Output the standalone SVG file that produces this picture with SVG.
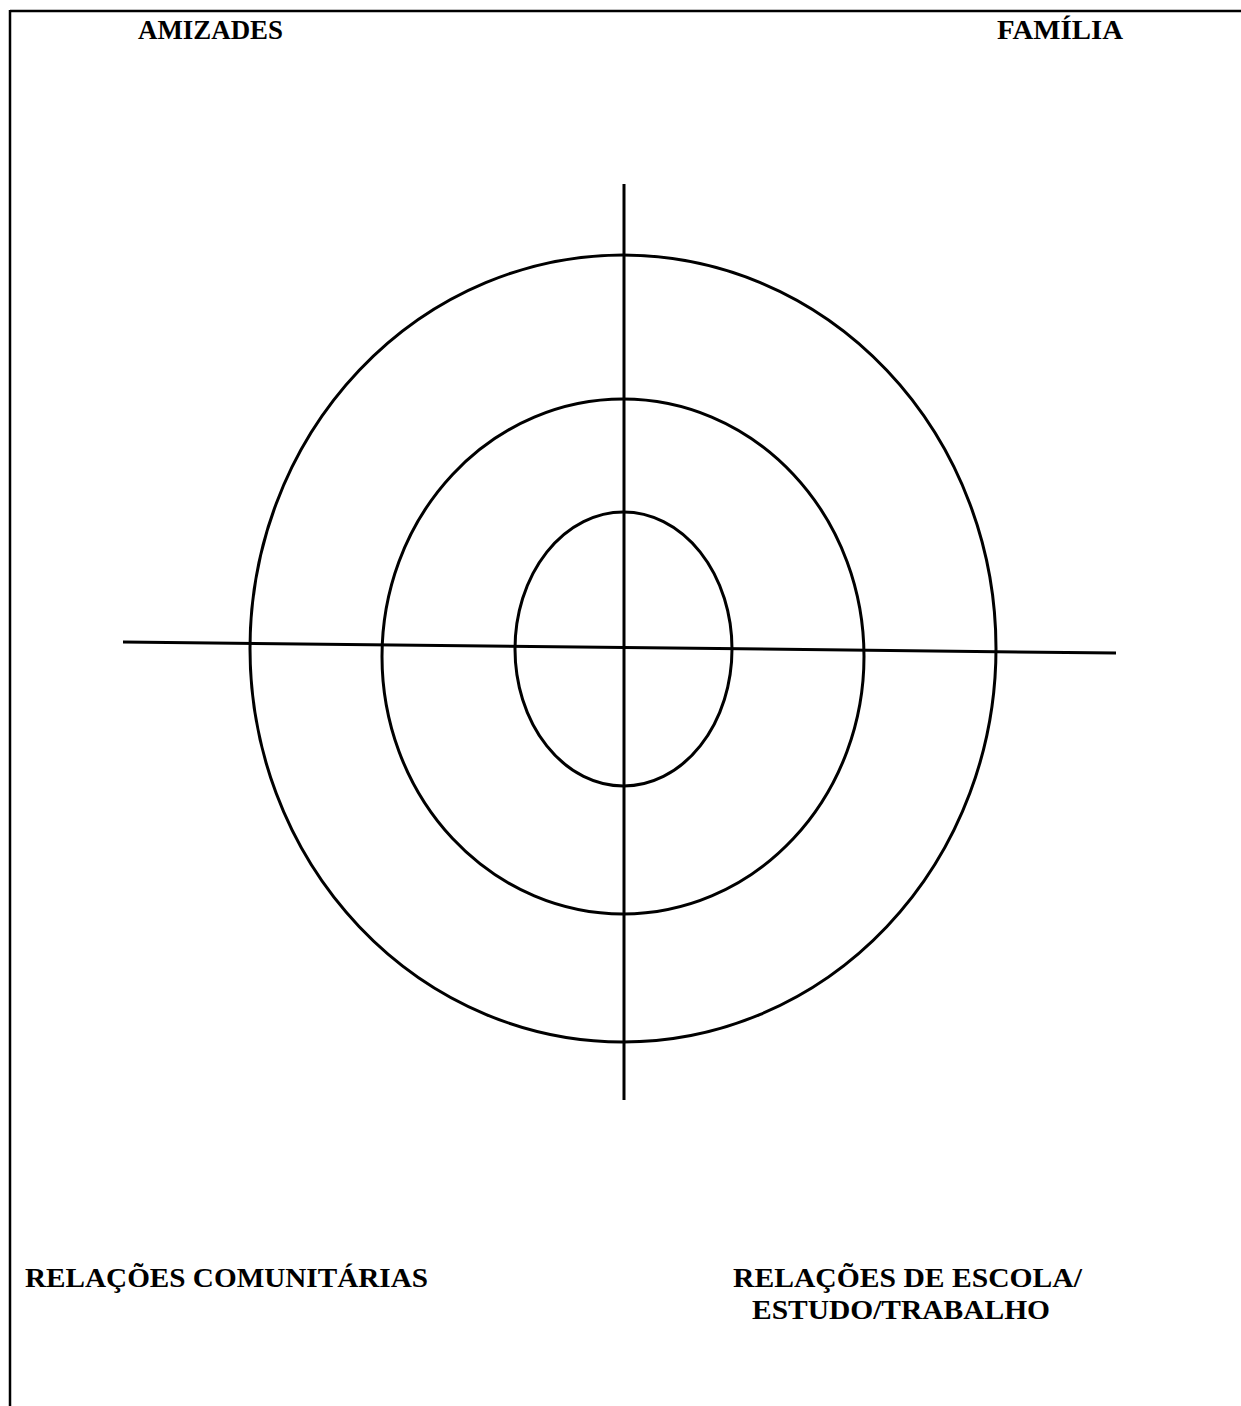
<svg xmlns="http://www.w3.org/2000/svg" width="1241" height="1406" viewBox="0 0 1241 1406">
<style>
.ln{stroke:#000;stroke-width:3;fill:none}
.bd{stroke:#000;stroke-width:2.5;fill:none}
.t{font-family:"Liberation Serif","Times New Roman",serif;font-weight:bold;font-size:27px;fill:#000}
</style>
<rect x="0" y="0" width="1241" height="1406" fill="#fff"/>
<g id="border">
<line class="bd" x1="10" y1="11" x2="1241" y2="11"/>
<line class="bd" x1="10" y1="10" x2="10" y2="1406"/>
</g>
<g id="rings">
<ellipse id="outer" class="ln" cx="623" cy="648.5" rx="373" ry="393.5"/>
<ellipse id="middle" class="ln" cx="623" cy="656.5" rx="241" ry="257.5"/>
<ellipse id="inner" class="ln" cx="623.5" cy="649" rx="108.5" ry="137"/>
</g>
<g id="connectors">
<line class="ln" x1="624" y1="184" x2="624" y2="1100"/>
<line class="ln" x1="123" y1="642" x2="1116" y2="653"/>
</g>
<g id="label-amizades"><text class="t" x="138" y="39" textLength="145" lengthAdjust="spacingAndGlyphs">AMIZADES</text></g>
<g id="label-familia"><text class="t" x="997" y="39" textLength="126" lengthAdjust="spacingAndGlyphs">FAMÍLIA</text></g>
<g id="label-comunitarias"><text class="t" x="25" y="1287" textLength="403" lengthAdjust="spacingAndGlyphs">RELAÇÕES COMUNITÁRIAS</text></g>
<g id="label-escola">
<text class="t" x="733" y="1287" textLength="349" lengthAdjust="spacingAndGlyphs">RELAÇÕES DE ESCOLA/</text>
<text class="t" x="752" y="1319" textLength="298" lengthAdjust="spacingAndGlyphs">ESTUDO/TRABALHO</text>
</g>
</svg>
